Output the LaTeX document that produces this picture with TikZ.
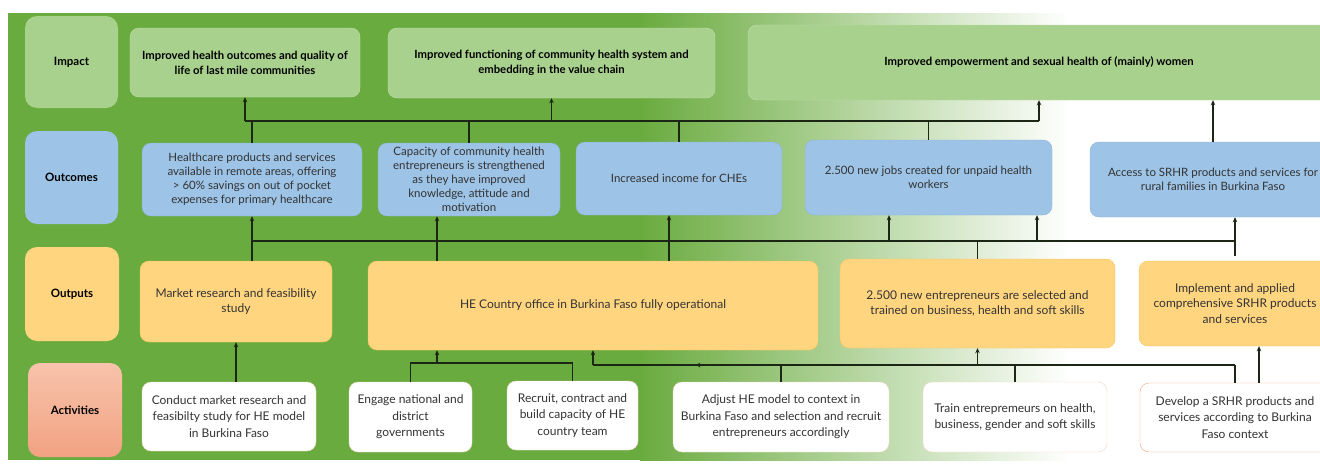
\documentclass[tikz,border=0pt]{standalone}
\usepackage{fontspec}
\setmainfont{Lato}
\usetikzlibrary{arrows.meta,decorations.markings}

\definecolor{bggreen}{HTML}{6AAB3F}
\definecolor{impfill}{HTML}{A9D18E}
\definecolor{outcfill}{HTML}{9DC3E6}
\definecolor{outcline}{HTML}{8DB3DC}
\definecolor{outpfill}{HTML}{FFD580}
\definecolor{outpline}{HTML}{F7C55C}
\definecolor{acttop}{HTML}{F7C3AB}
\definecolor{actbot}{HTML}{F2A282}
\definecolor{actline}{HTML}{F1D6C4}
\definecolor{linecol}{HTML}{1C2614}

\begin{document}
\begin{tikzpicture}[x=1pt, y=-1pt, >={Stealth[length=5pt,width=4.5pt]},
    sz/.style 2 args={minimum width=#1pt, minimum height=#2pt},
    box/.style={rounded corners=9pt, align=center, inner sep=2pt, text=black!80,
        font=\fontsize{11.5}{14}\selectfont},
    lab/.style={box, rounded corners=12pt, text=black, font=\bfseries\fontsize{11.5}{13}\selectfont},
    impbox/.style={box, fill=impfill, draw=impfill!70!white, text=black,
        font=\bfseries\fontsize{11.3}{15}\selectfont},
    outcbox/.style={box, fill=outcfill, draw=outcline},
    outpbox/.style={box, fill=outpfill, draw=outpline, font=\fontsize{12}{15.5}\selectfont},
    actbox/.style={box, fill=white, draw=actline, font=\fontsize{12}{16.5}\selectfont},
    line/.style={draw=linecol, line width=1.1pt},
    arr/.style={line, ->},
    midarr/.style={line, postaction={decorate},
        decoration={markings, mark=at position 0.5 with {\arrow{>}}}}]

    \useasboundingbox (0,0) rectangle (1320,464);
    \clip (0,0) rectangle (1320,464);

    % Background
    \fill[white] (0,0) rectangle (1320,464);
    \fill[bggreen] (8,13) rectangle (641,460);
    \shade[left color=bggreen, right color=white] (640,13) rectangle (1070,460);

    % Row labels
    \node[lab, sz={93}{92}, fill=impfill] (limp) at (71.5,62) {Impact};
    \node[lab, sz={93}{93}, fill=outcfill] (loutc) at (71.5,177.5) {Outcomes};
    \node[lab, sz={94}{94}, fill=outpfill] (loutp) at (72,294) {Outputs};
    \node[lab, sz={94}{94}, top color=acttop, bottom color=actbot] (lact) at (75,410) {Activities};

    % Impact
    \node[impbox, sz={230}{69}] (I1) at (245,62.5)
        {Improved health outcomes and quality of\\life of last mile communities};
    \node[impbox, sz={327}{70}] (I2) at (551.5,63)
        {Improved functioning of community health system and\\embedding in the value chain};
    \node[impbox, sz={582}{75}] (I3) at (1039,62.5)
        {Improved empowerment and sexual health of (mainly) women};

    % Outcomes
    \node[outcbox, sz={220}{73}] (O1) at (252,179.5)
        {Healthcare products and services\\available in remote areas, offering\\> 60\% savings on out of pocket\\expenses for primary healthcare};
    \node[outcbox, sz={182}{73}] (O2) at (469,179.5)
        {Capacity of community health\\entrepreneurs is strengthened\\as they have improved\\knowledge, attitude and\\motivation};
    \node[outcbox, sz={206}{73}] (O3) at (679,178.5) {Increased income for CHEs};
    \node[outcbox, sz={247}{75}] (O4) at (928.5,177.5)
        {2.500 new jobs created for unpaid health\\workers};
    \node[outcbox, sz={246}{75}] (O5) at (1213,179.5)
        {Access to SRHR products and services for\\rural families in Burkina Faso};

    % Outputs
    \node[outpbox, sz={192}{81}] (P1) at (236,301.5)
        {Market research and feasibility\\study};
    \node[outpbox, sz={450}{89}] (P2) at (593,305.5)
        {HE Country office in Burkina Faso fully operational};
    \node[outpbox, sz={275}{89}] (P3) at (977.5,303.5)
        {2.500 new entrepreneurs are selected and\\trained on business, health and soft skills};
    \node[outpbox, sz={192}{85}] (P4) at (1235,303.5)
        {Implement and applied\\comprehensive SRHR products\\and services};

    % Activities
    \node[actbox, sz={174}{69}] (A1) at (229,416.5)
        {Conduct market research and\\feasibilty study for HE model\\in Burkina Faso};
    \node[actbox, sz={123}{70}] (A2) at (410.5,417)
        {Engage national and\\district\\governments};
    \node[actbox, sz={131}{69}] (A3) at (572.5,415.5)
        {Recruit, contract and\\build capacity of HE\\country team};
    \node[actbox, sz={216}{70}] (A4) at (781,417)
        {Adjust HE model to context in\\Burkina Faso and selection and recruit\\entrepreneurs accordingly};
    \node[actbox, sz={184}{70}] (A5) at (1015,417)
        {Train entrepremeurs on health,\\business, gender and soft skills};
    \node[actbox, sz={190}{69}, draw=actbot] (A6) at (1235,417.5)
        {Develop a SRHR products and\\services according to Burkina\\Faso context};

    % Outcomes -> Impact
    \coordinate (busI) at (0,121);
    \draw[line] (I1.south |- busI) -- (I3.south |- busI);
    \foreach \n in {I1,I2,I3}
        \draw[arr] (\n.south |- busI) -- (\n.south);
    \foreach \n in {O1,O2,O3,O4}
        \draw[line] (\n.north) -- (\n.north |- busI);
    \draw[arr] (O5.north) -- (O5.north |- I3.south);

    % Outputs -> Outcomes
    \coordinate (busO) at (0,241);
    \draw[line] (O1.south |- busO) -- (P4.north |- busO);
    \foreach \n/\s in {O1/0, O2/-32, O3/-10, O4/-39.5, O4/108.5}
        \draw[arr] ([xshift=\s pt]\n.south |- busO) -- ([xshift=\s pt]\n.south);
    \draw[arr] (P4.north |- busO) -- (P4.north |- O5.south);
    \draw[line] (O1.south |- busO) -- (O1.south |- P1.north);
    \foreach \n/\s in {O2/-32, O3/-10}
        \draw[line] ([xshift=\s pt]\n.south |- busO) -- ([xshift=\s pt]\n.south |- P2.north);
    \draw[line] (P3.north |- busO) -- (P3.north);
    \draw[line] (P4.north |- busO) -- ([yshift=5pt]P4.north);

    % Activities -> Outputs
    \draw[arr] (P1.south |- A1.north) -- (P1.south);
    \coordinate (j23) at (437,363);
    \draw[line] (A2.north) |- (j23) -| (A3.north);
    \draw[arr] (j23) -- (j23 |- P2.south);
    \coordinate (busA) at (0,365);
    \draw[midarr] (A4.north) |- (P2.south |- busA);
    \draw[arr] (P2.south |- busA) -- (P2.south);
    \draw[line] (A4.north |- busA) -- (A6.north |- busA);
    \draw[arr] (P3.south |- busA) -- (P3.south);
    \draw[line] (A5.north) -- (A5.north |- busA);
    \draw[line] (A6.north) -- (A6.north |- busA);
    \draw[arr] ([xshift=24pt]A6.north) -- ([xshift=24pt]A6.north |- P4.south);

\end{tikzpicture}
\end{document}
